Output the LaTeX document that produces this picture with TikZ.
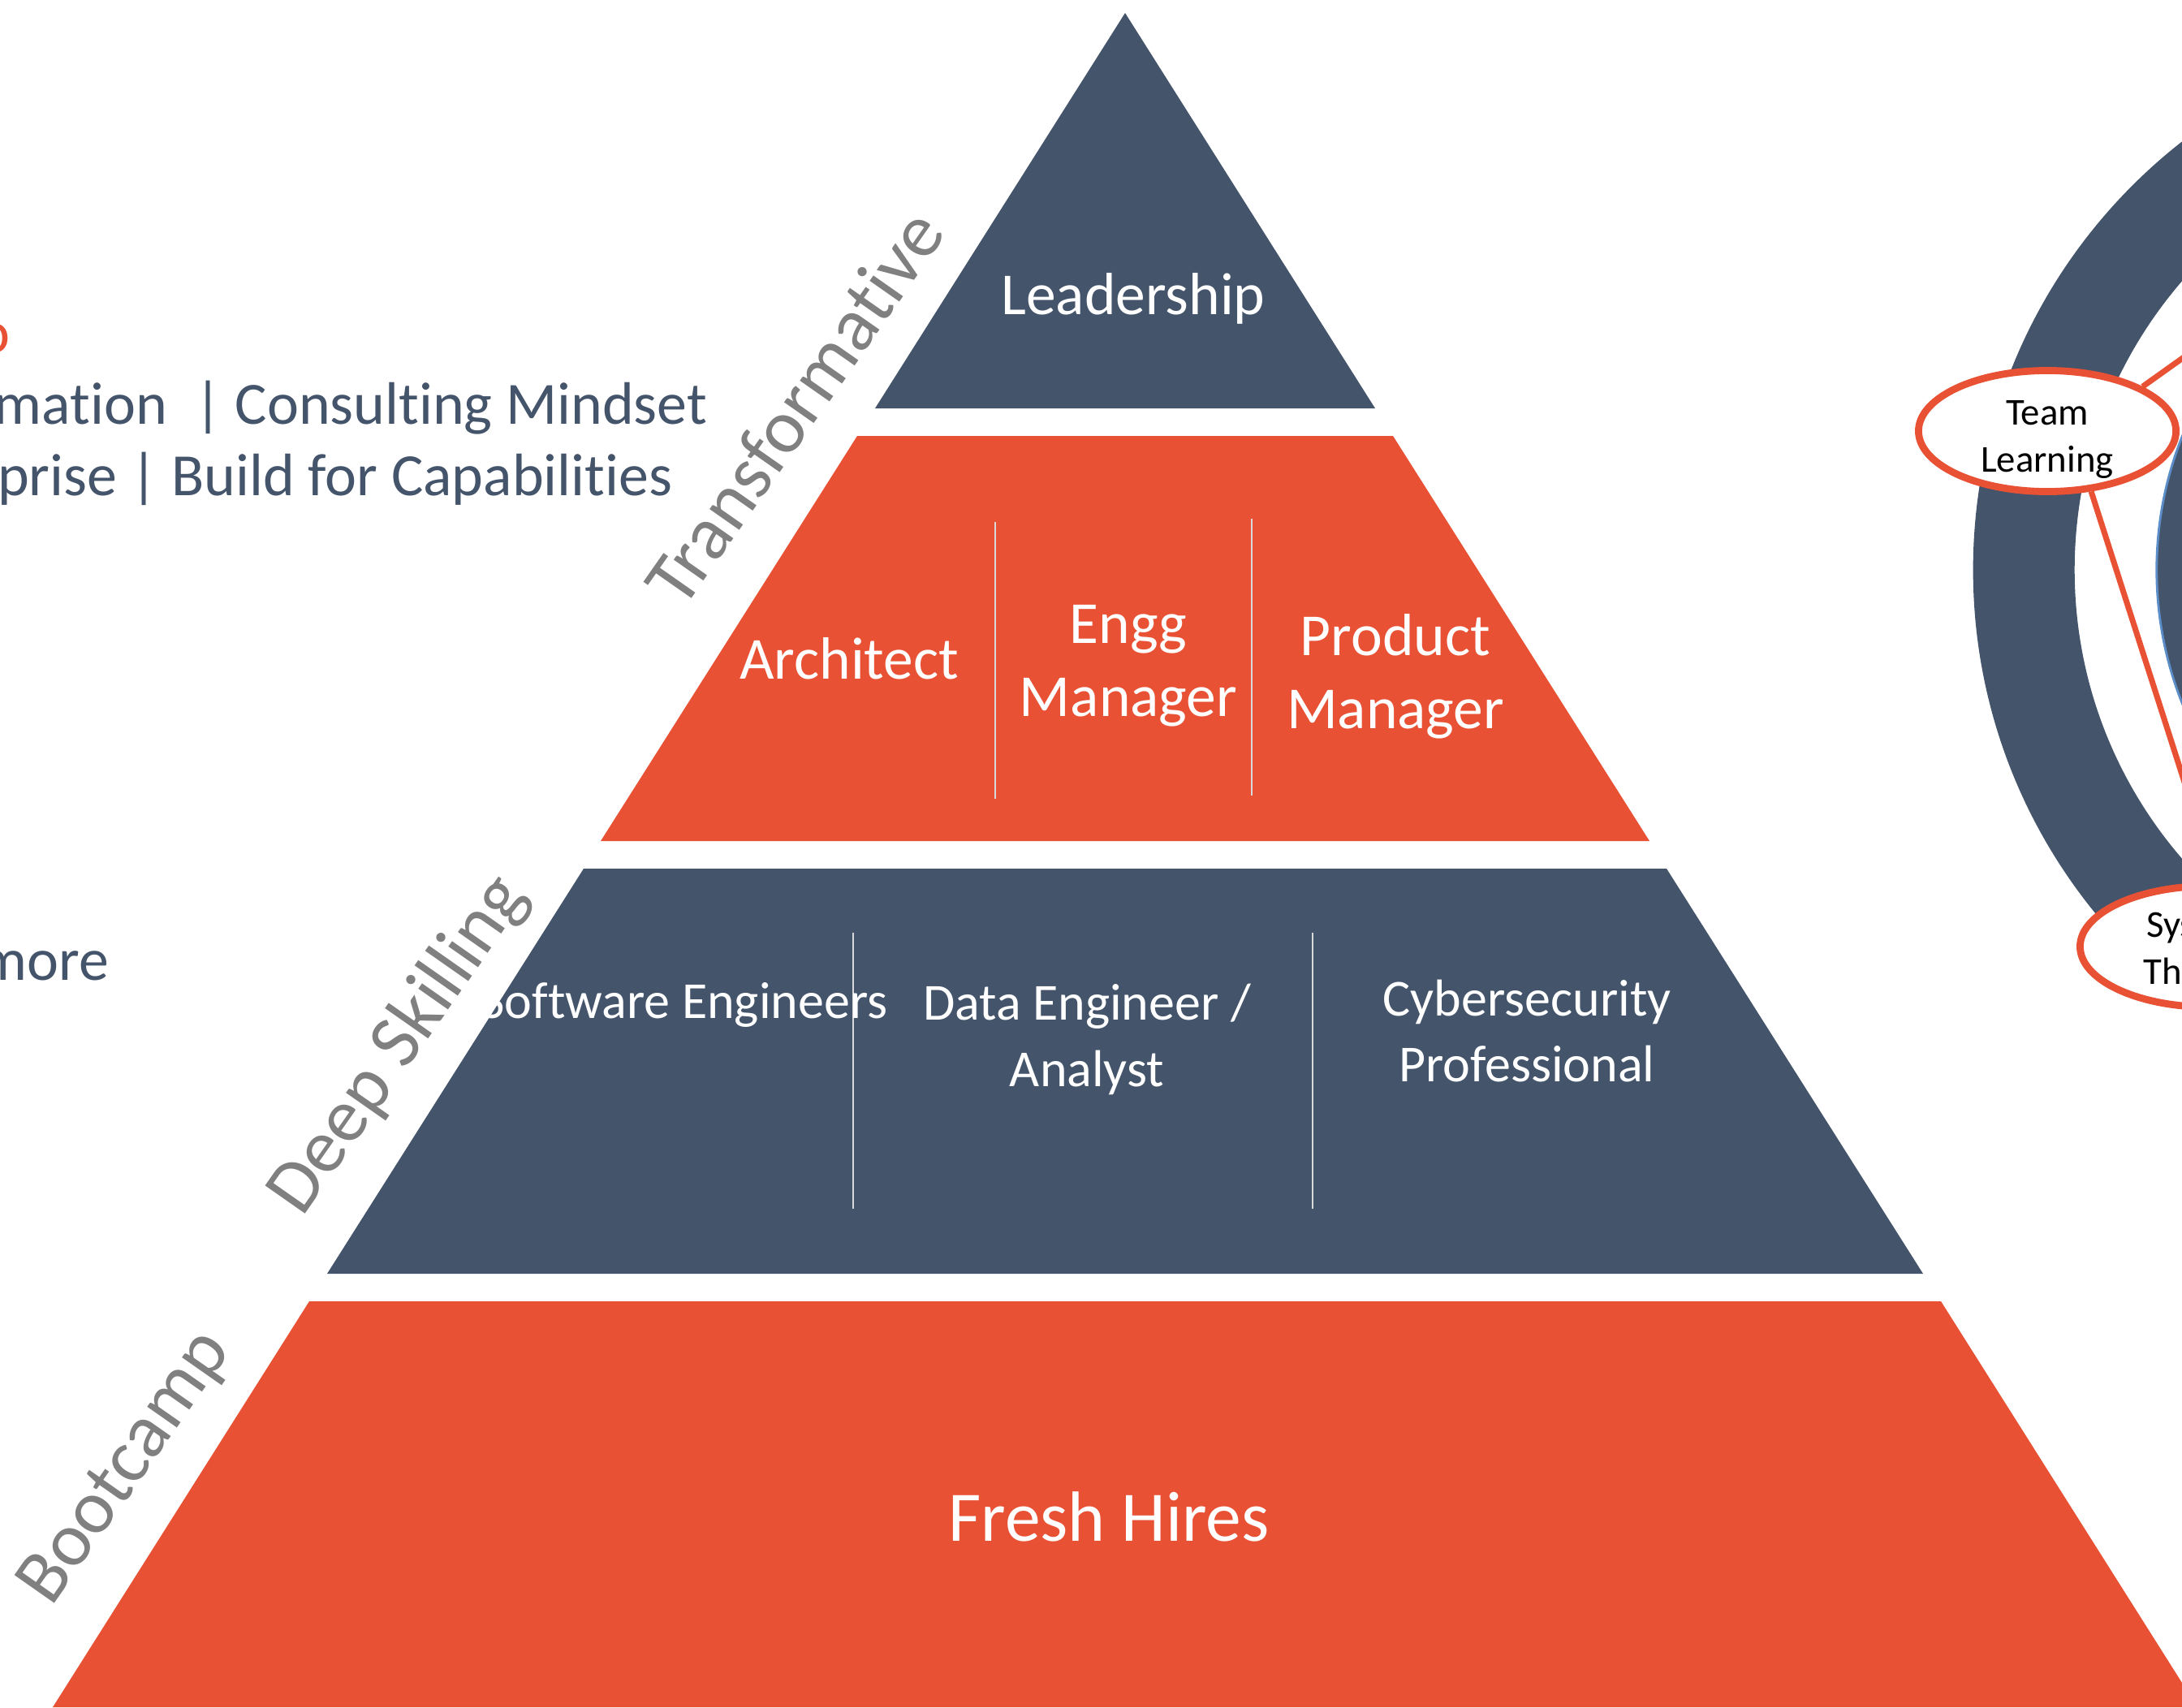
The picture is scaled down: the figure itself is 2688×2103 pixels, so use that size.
\documentclass[tikz,border=0pt]{standalone}
\usepackage{fontspec}
\setmainfont{Carlito}[Ligatures={NoCommon}]
\usetikzlibrary{shapes.geometric}
\definecolor{slate}{RGB}{68,84,106}
\definecolor{flame}{RGB}{233,81,52}
\definecolor{tiergrey}{RGB}{128,128,128}
\definecolor{rimblue}{RGB}{91,141,201}
\begin{document}
\begin{tikzpicture}[x=0.01cm,y=-0.01cm,
  tiertext/.style={text=white,align=center,inner sep=0pt,font=\fontsize{20.9}{25.6}\selectfont},
  roletext/.style={text=white,align=center,inner sep=0pt,font=\fontsize{18.2}{23.3}\selectfont},
  sidelabel/.style={text=tiergrey,rotate=55,inner sep=0pt,font=\fontsize{26.6}{32}\selectfont},
  pitch/.style={text=slate,anchor=base east,inner sep=0pt,font=\fontsize{21}{25}\selectfont},
  divider/.style={draw=white!85!black,line width=0.6pt},
  discipline/.style={ellipse,draw=flame,fill=white,line width=2.5pt,minimum width=3.17cm,minimum height=1.49cm,inner sep=-10pt,align=center,font=\fontsize{13.3}{16.5}\selectfont},
  link/.style={draw=flame,line width=2pt}]
\useasboundingbox (0,0) rectangle (2688,2103);

\fill[slate] (1386,16) -- (1694,503) -- (1078,503) -- cycle;
\fill[flame] (1056,537) -- (1716,537) -- (2032,1036) -- (740,1036) -- cycle;
\fill[slate] (719,1070) -- (2053,1070) -- (2369,1569) -- (403,1569) -- cycle;
\fill[flame] (381,1603) -- (2391,1603) -- (2707,2103) -- (65,2103) -- cycle;

\draw[divider] (1226,643) -- (1226,984);
\draw[divider] (1542,639) -- (1542,980);
\draw[divider] (1051,1149) -- (1051,1489);
\draw[divider] (1617,1149) -- (1617,1489);

\node[tiertext] (lead) at (1396,368) {Leadership};
\node[tiertext] (arch) at (1046,811) {Architect};
\node[tiertext] (engg) at (1390,820) {Engg\\Manager};
\node[tiertext] (prod) at (1719,833) {Product\\Manager};
\node[roletext] (swe) at (843,1238) {Software Engineers};
\node[roletext] (data) at (1339,1280) {Data Engineer /\\Analyst};
\node[roletext] (cyber) at (1881,1270) {Cybersecurity\\Professional};
\node[text=white,inner sep=0pt,font=\fontsize{24.9}{30}\selectfont] (fresh) at (1366,1868) {Fresh Hires};

\node[sidelabel] (transf) at (978,502) {Transformative};
\node[sidelabel] (deep) at (492,1288) {Deep Skilling};
\node[sidelabel] (boot) at (156,1809) {Bootcamp};

\node[pitch,text=flame] (head) at (13,434) {o};
\node[pitch] (line1) at (872,522) {mation\ \ | Consulting Mindset};
\node[pitch] (line2) at (829,610) {prise | Build for Capabilities};
\node[pitch] (line3) at (135,1207) {more};

% five disciplines wheel
\fill[slate,even odd rule] (3100,702) circle[radius=6.69cm] (3100,702) circle[radius=5.44cm];
\filldraw[fill=slate,draw=rimblue,line width=0.8pt] (3100,702) circle[radius=4.43cm];
\coordinate (vision) at (2839,334);
\node[discipline] (team) at (2522,531) {\rule{0pt}{14.3pt}Team\\Learning};
\node[discipline] (systems) at (2721,1166) {\rule{0pt}{12pt}Systems\\Thinking};
\draw[link] (team.25) -- (vision);
\draw[link] (team.-54) -- (systems.83);
\end{tikzpicture}
\end{document}
